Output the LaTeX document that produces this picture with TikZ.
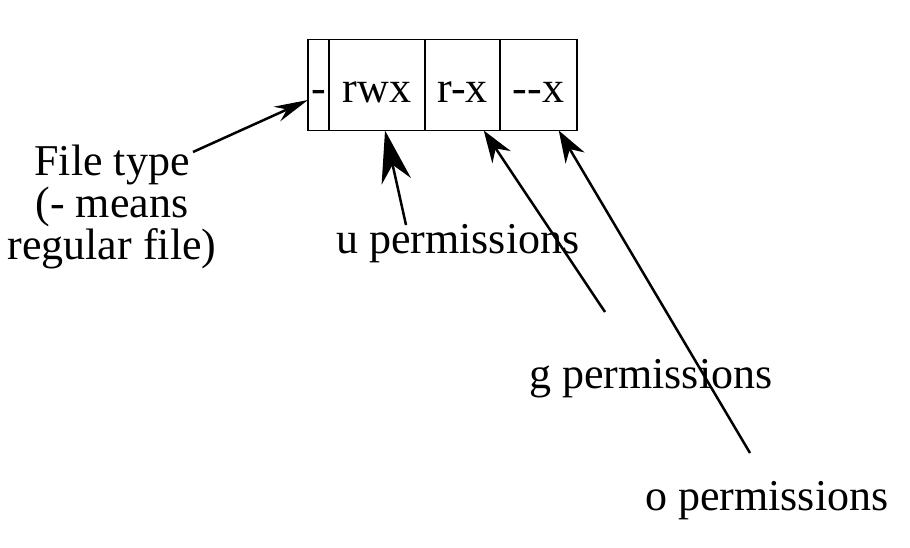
\documentclass[tikz,border=0pt]{standalone}
\usepackage{fontspec}
\setmainfont{Liberation Serif}
\usetikzlibrary{positioning,arrows.meta}

\begin{document}
\begin{tikzpicture}[x=1pt,y=-1pt,
  every node/.style={font=\fontsize{44}{42}\selectfont},
  cell/.style={draw, line width=1.5pt, minimum height=91pt, inner sep=0pt, outer sep=0pt, text height=36pt, text depth=0pt},
  lbl/.style={anchor=base west, inner sep=0pt},
  pointer/.style={-{Stealth[length=32pt,width=22pt]}, line width=2.5pt}]
  \useasboundingbox (0,0) rectangle (910,548);

  % Permission string
  \node[cell, minimum width=21pt] (ftype) at (318.5,85) {-};
  \node[cell, minimum width=96pt, right=0pt of ftype] (ubits) {rwx};
  \node[cell, minimum width=75pt, right=0pt of ubits] (gbits) {r-x};
  \node[cell, minimum width=77pt, right=0pt of gbits] (obits) {{-}{-}x};

  % Labels
  \node[align=center, inner sep=0pt] (ftlabel) at (112,207) {File type\\(- means\\regular file)};
  \node[lbl] (ulabel) at (336,253) {u permissions};
  \node[lbl] (glabel) at (529,388) {g permissions};
  \node[lbl] (olabel) at (645,510) {o permissions};

  % Arrows
  \coordinate (fttail) at (193,152);
  \coordinate (utail) at (406,225);
  \coordinate (gtail) at (605,312);
  \coordinate (otail) at (750,453);
  \draw[pointer, -{Stealth[length=34pt,width=16pt]}] (fttail) -- (ftype.-125);
  \draw[pointer, -{Stealth[length=52pt,width=30pt]}] (utail) -- (ubits.-80);
  \draw[pointer] (gtail) -- (gbits.-65);
  \draw[pointer] (otail) -- (obits.-66);
\end{tikzpicture}
\end{document}
